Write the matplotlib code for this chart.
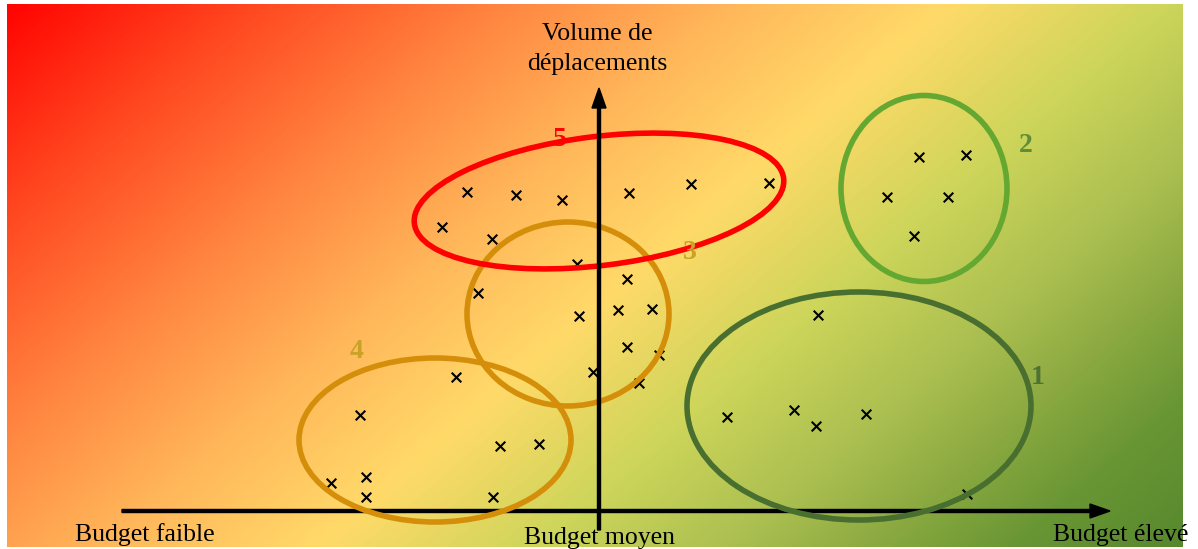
import matplotlib
matplotlib.use("Agg")
import matplotlib.pyplot as plt
from matplotlib.colors import LinearSegmentedColormap
from matplotlib.patches import Ellipse
import numpy as np

# points (budget, volume de deplacements), origine = croisement des axes
g1_x = [21.9, 12.8, 19.5, 21.7, 26.7, 36.8]
g1_y = [19.6, 9.4, 10.1, 8.5, 9.7, 1.7]
g2_x = [32.0, 36.7, 28.8, 34.9, 31.5]
g2_y = [35.4, 35.6, 31.4, 31.4, 27.5]
g3_x = [-2.2, 2.8, -12.1, -2.0, 1.9, 5.3, 2.8, 6.0, -0.6, 4.0]
g3_y = [24.7, 23.2, 21.8, 19.5, 20.1, 20.2, 16.4, 15.6, 13.9, 12.8]
g4_x = [-14.3, -23.9, -9.9, -6.0, -26.8, -23.3, -23.3, -10.6]
g4_y = [13.4, 9.6, 6.5, 6.7, 2.8, 3.4, 1.4, 1.4]
g5_x = [-13.2, -8.3, -3.7, -15.7, -10.7, 3.0, 9.2, 17.0]
g5_y = [31.9, 31.6, 31.1, 28.4, 27.2, 31.8, 32.7, 32.8]

# groupes : nom, centre, largeur, hauteur, angle
groups = ["1", "2", "3", "4", "5"]
centers = [(26.0, 10.5), (32.5, 32.25), (-3.1, 19.7), (-16.4, 7.1), (0.0, 31.0)]
widths = [34.4, 16.6, 20.2, 27.2, 37.2]
heights = [22.8, 18.6, 18.4, 16.4, 12.9]
angles = [0, 0, 0, 0, 7]

ring_colors = ["#486E30", "#64A832", "#D48E0A", "#D48E0A", "#FF0000"]
label_colors = ["#4E7232", "#5E8E3A", "#C9A227", "#C9A227", "#FF0000"]
label_pos = [(43.9, 13.3), (42.7, 36.5), (9.1, 25.8), (-24.2, 15.9), (-3.9, 37.1)]

serif = "Liberation Serif"

fig = plt.figure(figsize=(11.98, 5.49), dpi=100)
ax = fig.add_axes([0, 0, 1, 1])
ax.set_xlim(-59.9, 59.9)
ax.set_ylim(-3.8, 51.1)
ax.axis("off")

# fond degrade rouge -> jaune -> vert
stops = [(0.0, (255, 0, 0)), (0.14, (255, 72, 32)), (0.28, (255, 135, 65)),
         (0.40, (255, 182, 90)), (0.52, (255, 218, 105)), (0.64, (205, 213, 90)),
         (0.75, (170, 190, 80)), (0.82, (140, 170, 65)), (0.90, (105, 150, 52)),
         (1.0, (85, 135, 45))]
cmap = LinearSegmentedColormap.from_list(
    "bg", [(s, tuple(c / 255 for c in col)) for s, col in stops])
ext = (-59.2, 58.4, -3.6, 50.6)
xx, yy = np.meshgrid(np.linspace(ext[0], ext[1], 600), np.linspace(ext[3], ext[2], 280))
px = 599 + 10 * xx
py = 511 - 10 * yy
t = (510 * px + 593 * py) / (510 * 1198 + 593 * 549)
ax.imshow(t, cmap=cmap, vmin=0, vmax=1, extent=ext, aspect="auto", zorder=0,
          interpolation="bilinear")

# axe horizontal (sous les ellipses)
ax.arrow(-47.7, 0, 98.8, 0, width=0.3, head_width=1.4, head_length=2.0,
         length_includes_head=True, color="black", zorder=1)

# points
for gx, gy in [(g1_x, g1_y), (g2_x, g2_y), (g3_x, g3_y), (g4_x, g4_y), (g5_x, g5_y)]:
    ax.scatter(gx, gy, marker="x", s=48, linewidths=1.5, color="black", zorder=2)

for i, name in enumerate(groups):
    ax.add_patch(Ellipse(centers[i], widths[i], heights[i], angle=angles[i],
                         fill=False, edgecolor=ring_colors[i], linewidth=4.0, zorder=3))
    ax.text(label_pos[i][0], label_pos[i][1], name, color=label_colors[i],
            fontsize=20, fontweight="bold", family=serif, ha="center", va="center",
            zorder=4)

# axe vertical
ax.arrow(0, -1.9, 0, 44.2, width=0.3, head_width=1.4, head_length=2.0,
         length_includes_head=True, color="black", zorder=4)

ax.text(-0.2, 46.2, "Volume de\ndéplacements", fontsize=18.5, family=serif,
        ha="center", va="center", linespacing=1.45)
ax.text(-52.4, -3.0, "Budget faible", fontsize=18.5, family=serif, ha="left",
        va="baseline")
ax.text(0.1, -3.3, "Budget moyen", fontsize=18.5, family=serif, ha="center",
        va="baseline")
ax.text(45.4, -3.0, "Budget élevé", fontsize=18.5, family=serif, ha="left",
        va="baseline")

fig.savefig("out.png", dpi=100, facecolor="white")
